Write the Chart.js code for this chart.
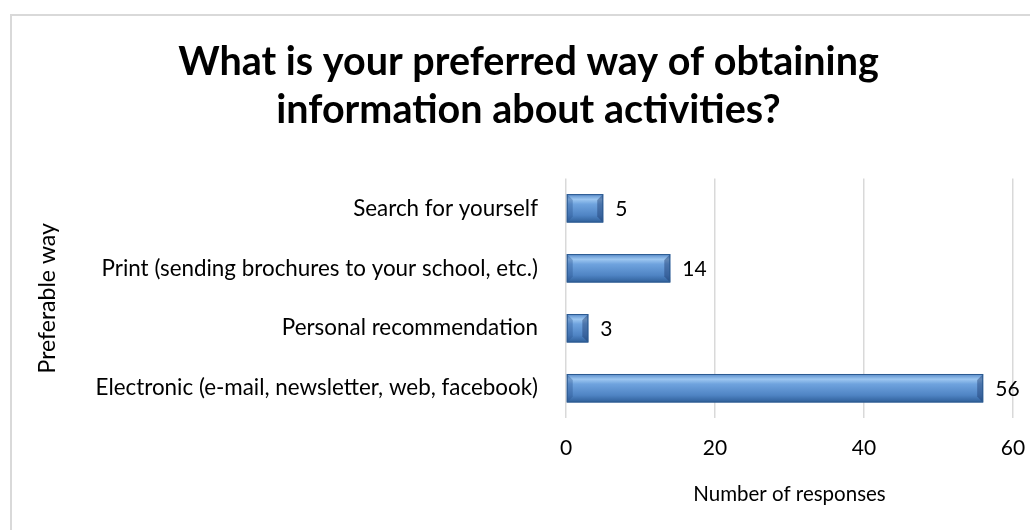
<!DOCTYPE html>
<html>
<head>
<meta charset="utf-8">
<script src="https://cdn.jsdelivr.net/npm/chart.js@4.4.1/dist/chart.umd.min.js"></script>
<style>
  html, body { margin:0; padding:0; background:#fff; overflow:hidden; }
  .frame { position:absolute; left:10px; top:14px; width:1040px; height:540px;
           border-left:2px solid #d9d9d9; border-top:2px solid #d9d9d9; }
  .wrap { position:absolute; left:0; top:0; width:1030px; height:530px; }
</style>
</head>
<body>
<div class="frame"></div>
<div class="wrap"><canvas id="chart"></canvas></div>
<script>
// ── Data ──────────────────────────────────────────────────
const categories = [
  'Search for yourself',
  'Print (sending brochures to your school, etc.)',
  'Personal recommendation',
  'Electronic (e-mail, newsletter, web, facebook)'
];
const responses = [5, 14, 3, 56];
const xTicks = [0, 20, 40, 60];

const FONT = "Lato, sans-serif";
const LEFT_PAD = 30;

// vertical gradient per bar (bevelled Excel look)
function barFill(ctx) {
  const chart = ctx.chart;
  const y = chart.scales.y;
  if (!y || ctx.dataIndex === undefined) return '#4F81BD';
  const cy = y.getPixelForValue(ctx.dataIndex);
  if (!isFinite(cy)) return '#4F81BD';
  const half = 14;
  const g = chart.ctx.createLinearGradient(0, cy - half, 0, cy + half);
  g.addColorStop(0,    '#5a8dcb');
  g.addColorStop(0.18, '#9cc6f0');
  g.addColorStop(0.35, '#6fa3de');
  g.addColorStop(0.75, '#4f84c4');
  g.addColorStop(1,    '#2f5f99');
  return g;
}

// bevel edges + value labels
const bevelPlugin = {
  id: 'bevel',
  afterDatasetsDraw(chart) {
    const c = chart.ctx;
    const meta = chart.getDatasetMeta(0);
    meta.data.forEach((bar, i) => {
      const { x, y, base, height } = bar.getProps(['x','y','base','height'], true);
      const top = y - height / 2, bot = y + height / 2;
      const b = Math.min(6, (x - base) / 2);
      c.save();
      // left bevel
      c.fillStyle = 'rgba(40,80,140,0.35)';
      c.beginPath(); c.moveTo(base, top); c.lineTo(base + b, top + b);
      c.lineTo(base + b, bot - b); c.lineTo(base, bot); c.closePath(); c.fill();
      // right bevel
      c.fillStyle = 'rgba(30,60,110,0.45)';
      c.beginPath(); c.moveTo(x, top); c.lineTo(x - b, top + b);
      c.lineTo(x - b, bot - b); c.lineTo(x, bot); c.closePath(); c.fill();
      c.strokeStyle = '#2c5a90'; c.lineWidth = 1;
      c.strokeRect(base + 0.5, top + 0.5, x - base - 1, height - 1);
      // value label
      c.fillStyle = '#000';
      c.font = '21px ' + FONT;
      c.textAlign = 'left'; c.textBaseline = 'middle';
      c.fillText(String(responses[i]), x + 12, y + 1);
      c.restore();
    });
  }
};

new Chart(document.getElementById('chart'), {
  type: 'bar',
  data: {
    labels: categories,
    datasets: [{
      label: 'Number of responses',
      data: responses,
      backgroundColor: barFill,
      borderWidth: 0,
      categoryPercentage: 0.95,
      barPercentage: 0.5
    }]
  },
  options: {
    indexAxis: 'y',
    responsive: true, maintainAspectRatio: false, animation: false,
    layout: { padding: { left: LEFT_PAD, right: 3, top: 38, bottom: 19 } },
    plugins: {
      legend: { display: false },
      tooltip: { enabled: false },
      title: {
        display: true,
        text: ['What is your preferred way of obtaining', 'information about activities?'],
        color: '#000',
        font: { family: FONT, size: 39.5, weight: 'bold', lineHeight: 1.22 },
        padding: { top: 0, bottom: 44 }
      }
    },
    scales: {
      x: {
        min: 0, max: 60,
        afterBuildTicks: axis => { axis.ticks = xTicks.map(v => ({ value: v })); },
        afterFit: scale => { scale.paddingRight = 17; },
        grid: { color: '#d9d9d9', lineWidth: 1.5, drawTicks: false },
        border: { display: false },
        ticks: { color: '#000', font: { family: FONT, size: 21 }, padding: 17 },
        title: { display: true, text: 'Number of responses', color: '#000',
                 font: { family: FONT, size: 20.5 }, padding: { top: 5 } }
      },
      y: {
        afterFit: scale => { scale.width = 566 - LEFT_PAD; },
        grid: { display: false },
        border: { display: false },
        ticks: { color: '#000', font: { family: FONT, size: 22.4 }, padding: 20 },
        title: { display: true, text: 'Preferable way', color: '#000',
                 font: { family: FONT, size: 23 }, padding: { top: 4, bottom: 0 } }
      }
    }
  },
  plugins: [bevelPlugin]
});
</script>
</body>
</html>
